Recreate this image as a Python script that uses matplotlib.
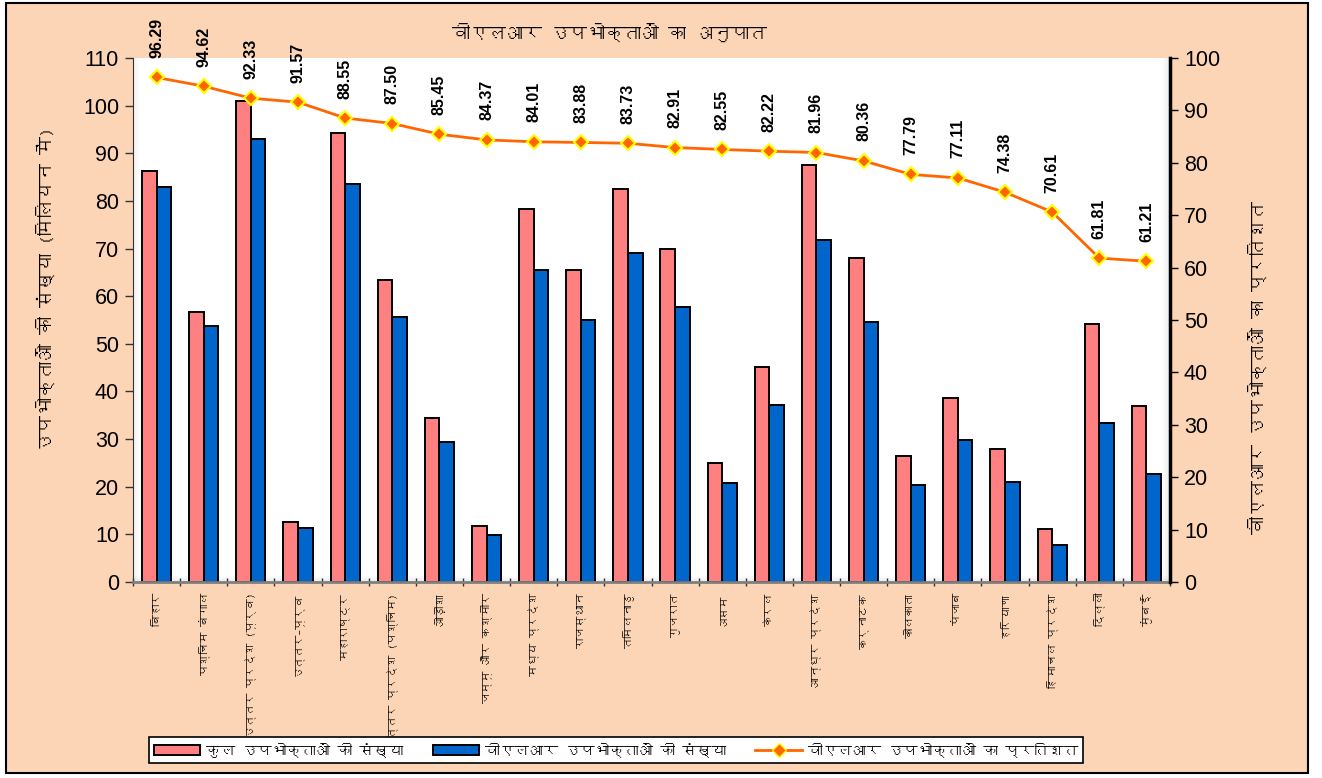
import numpy as np
import matplotlib
matplotlib.use("Agg")
import matplotlib.pyplot as plt
from matplotlib import font_manager, ft2font
from matplotlib.patches import Rectangle, Patch
from matplotlib.lines import Line2D

# categories (states / circles)
circles = ["बिहार", "पश्चिम बंगाल", "उत्तर प्रदेश (पूर्व)", "उत्तर–पूर्व", "महाराष्ट्र",
           "उत्तर प्रदेश (पश्चिम)", "ओड़ीशा", "जम्मू और कश्मीर", "मध्य प्रदेश", "राजस्थान",
           "तमिलनाडु", "गुजरात", "असम", "केरल", "आन्ध्र प्रदेश", "कर्नाटक", "कोलकाता",
           "पंजाब", "हरियाणा", "हिमाचल प्रदेश", "दिल्ली", "मुंबई"]
# total subscribers (million)
total_subs = [86.3, 56.7, 100.9, 12.5, 94.2, 63.4, 34.5, 11.8, 78.2, 65.5, 82.4,
              69.9, 24.9, 45.1, 87.6, 68.0, 26.4, 38.7, 27.9, 11.1, 54.2, 37.0]
# VLR subscribers (million)
vlr_subs = [82.9, 53.7, 93.1, 11.3, 83.5, 55.6, 29.4, 9.9, 65.5, 55.1, 69.1,
            57.8, 20.7, 37.1, 71.8, 54.6, 20.4, 29.9, 20.9, 7.7, 33.4, 22.7]
# VLR percentage
vlr_pct = [96.29, 94.62, 92.33, 91.57, 88.55, 87.50, 85.45, 84.37, 84.01, 83.88, 83.73,
           82.91, 82.55, 82.22, 81.96, 80.36, 77.79, 77.11, 74.38, 70.61, 61.81, 61.21]

left_ticks = np.arange(0, 111, 10)
right_ticks = np.arange(0, 101, 10)


def find_deva_font():
    # look for any installed font that has Devanagari glyphs
    for f in font_manager.fontManager.ttflist:
        try:
            cm = ft2font.FT2Font(f.fname).get_charmap()
        except Exception:
            continue
        if 0x0915 in cm and 0x093E in cm:
            return f.name
    return None


deva = find_deva_font()
hindi_fam = [deva, "DejaVu Sans"] if deva else ["DejaVu Sans"]
num_fam = ["Liberation Sans", "DejaVu Sans"]

peach = "#FBD5B5"
pink = "#FF8080"
blue = "#0066CC"
orange = "#FF6600"

fig = plt.figure(figsize=(13.22, 7.78), dpi=100)
fig.patch.set_facecolor("white")
# peach chart area with black border
fig.patches.append(Rectangle((6 / 1322, 1 - 773 / 778), 1302 / 1322, 770 / 778,
                             transform=fig.transFigure, facecolor=peach,
                             edgecolor="black", linewidth=1.5, zorder=-10))

ax = fig.add_axes([133 / 1322, 1 - 582 / 778, 1037 / 1322, 524 / 778])
ax.set_facecolor("white")
x = np.arange(len(circles))
w = 0.31

# soft shadow along left, bottom and right edges of plot area
for k in range(8):
    a = 0.05 * (8 - k) / 8
    ax.add_patch(Rectangle((k * 0.0009, 0), 0.0009, 1, transform=ax.transAxes,
                           facecolor="black", alpha=a, linewidth=0, zorder=0.5))
    ax.add_patch(Rectangle((1 - (k + 1) * 0.0009, 0), 0.0009, 1, transform=ax.transAxes,
                           facecolor="black", alpha=a * 1.5, linewidth=0, zorder=0.5))
    ax.add_patch(Rectangle((0, k * 0.0016), 1, 0.0016, transform=ax.transAxes,
                           facecolor="black", alpha=a * 1.5, linewidth=0, zorder=0.5))

ax.bar(x - w / 2, total_subs, w, color=pink, edgecolor="black", linewidth=1.4, zorder=2)
ax.bar(x + w / 2, vlr_subs, w, color=blue, edgecolor="black", linewidth=1.4, zorder=2)

ax.set_xlim(-0.5, len(circles) - 0.5)
ax.set_ylim(0, 110)
ax.set_yticks(left_ticks)
ax.set_yticklabels([str(t) for t in left_ticks], fontsize=15.5, family=num_fam)
ax.set_xticks(x)
ax.set_xticklabels(circles, rotation=90, fontsize=8, family=hindi_fam, va="top")
ax.tick_params(axis="x", length=0, pad=8)
ax.set_xticks(np.arange(-0.5, len(circles), 1), minor=True)
ax.tick_params(axis="x", which="minor", length=6, width=1, direction="inout", color="#333333")
ax.tick_params(axis="y", length=6, width=1, direction="out", color="#333333", pad=4)
ax.spines["top"].set_visible(False)
ax.spines["right"].set_visible(False)
ax.spines["left"].set_color("#333333")
ax.spines["bottom"].set_color("#7f7f7f")
ax.spines["bottom"].set_linewidth(2)
ax.set_ylabel("उपभोक्ताओं की संख्या (मिलियन में)", fontsize=13, family=hindi_fam)
ax.yaxis.set_label_coords(-0.075, 0.56)

ax2 = ax.twinx()
ax2.set_ylim(0, 100)
ax2.plot(x, vlr_pct, color=orange, linewidth=2, marker="D", markersize=7,
         markerfacecolor=orange, markeredgecolor="#FFFF00", markeredgewidth=1.5, zorder=3)
for i, p in enumerate(vlr_pct):
    ax2.annotate(f"{p:.2f}", (i, p), xytext=(0, 14), textcoords="offset points",
                 rotation=90, ha="center", va="bottom", fontsize=11.5,
                 fontweight="bold", family=num_fam, annotation_clip=False)
ax2.set_yticks(right_ticks)
ax2.set_yticklabels([str(t) for t in right_ticks], fontsize=15.5, family=num_fam)
ax2.tick_params(axis="y", length=6, width=1, direction="out", pad=4)
for s in ["top", "left", "bottom"]:
    ax2.spines[s].set_visible(False)
ax2.spines["right"].set_linewidth(2.5)
ax2.set_ylabel("वीएलआर उपभोक्ताओं का प्रतिशत", fontsize=13, family=hindi_fam,
               rotation=90)
ax2.yaxis.set_label_coords(1.075, 0.41)

fig.text(610 / 1322, 1 - 32 / 778, "वीएलआर उपभोक्ताओं का अनुपात", ha="center",
         va="center", fontsize=13, fontweight="bold", family=hindi_fam)

handles = [Patch(facecolor=pink, edgecolor="black", linewidth=1.4),
           Patch(facecolor=blue, edgecolor="black", linewidth=1.4),
           Line2D([], [], color=orange, linewidth=2, marker="D", markersize=7,
                  markerfacecolor=orange, markeredgecolor="#FFFF00")]
labels = ["कुल उपभोक्ताओं की संख्या", "वीएलआर उपभोक्ताओं की संख्या",
          "वीएलआर उपभोक्ताओं का प्रतिशत"]
leg = fig.legend(handles, labels, loc="center", ncol=3,
                 bbox_to_anchor=(616 / 1322, 1 - 750 / 778), frameon=True,
                 fancybox=False, edgecolor="black", framealpha=1,
                 prop={"family": hindi_fam, "size": 10.5}, handlelength=3.2,
                 columnspacing=2.0, borderpad=0.35, handletextpad=0.4)
leg.get_frame().set_linewidth(1.2)

fig.savefig("out.png", dpi=100, facecolor=fig.get_facecolor())
